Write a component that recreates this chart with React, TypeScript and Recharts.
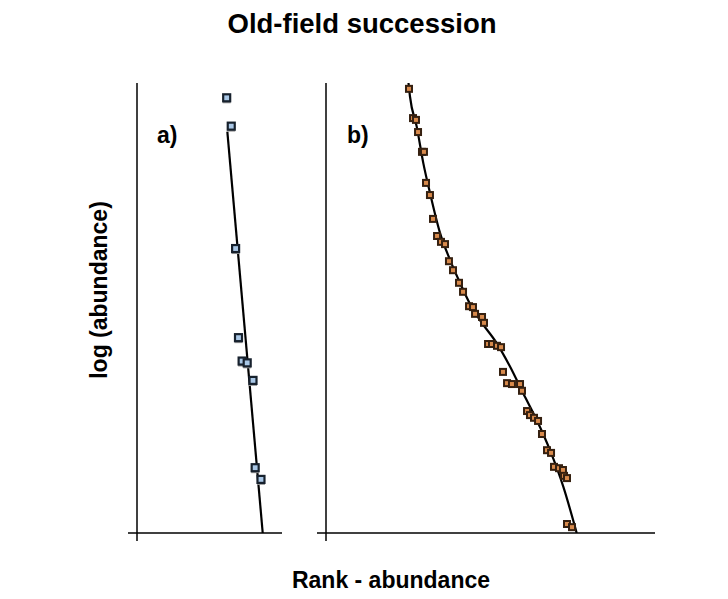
import React from "react";
import { ComposedChart, Scatter, Line, XAxis, YAxis } from "recharts";

// Panel a) observed rank / log abundance
const aRank = [12.37, 13.0, 13.6, 14.0, 14.5, 15.2, 16.0, 16.3, 17.1];
const aLogAbund = [9.66, 9.03, 6.31, 4.33, 3.81, 3.77, 3.38, 1.44, 1.18];
// Panel a) fitted line
const aFitRank = [12.46, 17.34];
const aFitLog = [8.92, 0];

// Panel b) observed rank / log abundance
const bRank = [
  10.09, 10.58, 10.94, 11.19, 11.67, 11.91, 12.16, 12.64, 13.01, 13.5, 13.98,
  14.47, 14.95, 15.44, 16.17, 16.66, 17.39, 17.87, 18.12, 18.97, 19.21, 19.7,
  20.18, 20.79, 21.28, 21.52, 22.01, 22.61, 23.59, 23.83, 24.44, 24.8, 25.29,
  25.78, 26.26, 26.87, 27.36, 27.72, 28.33, 28.81, 28.94, 29.3, 29.3, 29.91,
];
const bLogAbund = [
  9.87, 9.22, 9.18, 8.91, 8.47, 8.47, 7.78, 7.51, 6.98, 6.6, 6.47, 6.42, 6.04,
  5.84, 5.56, 5.36, 5.04, 5.02, 4.87, 4.8, 4.67, 4.2, 4.2, 4.16, 4.13, 3.58,
  3.33, 3.31, 3.31, 3.16, 2.71, 2.62, 2.56, 2.49, 2.2, 1.84, 1.78, 1.47, 1.44,
  1.4, 1.27, 1.22, 0.2, 0.13,
];
// Panel b) fitted curve
const bFitRank = [
  10.03, 10.21, 11.03, 11.83, 12.64, 13.86, 15.08, 16.29, 17.51, 18.72, 20.75,
  22.37, 23.99, 25.62, 27.23, 28.85, 30.48,
];
const bFitLog = [
  10, 9.7, 9.03, 8.22, 7.56, 6.67, 6.07, 5.56, 5.09, 4.73, 4.22, 3.7, 3.1, 2.51,
  1.84, 1.03, 0,
];

const title = "Old-field succession";
const xLabel = "Rank - abundance";
const yLabel = "log (abundance)";
const panelLabels = ["a)", "b)"];

const zip = (xs: number[], ys: number[]) => xs.map((x, i) => ({ x, y: ys[i] }));

const aPoints = zip(aRank, aLogAbund);
const aFit = zip(aFitRank, aFitLog);
const bPoints = zip(bRank, bLogAbund);
const bFit = zip(bFitRank, bFitLog);

const FONT = "'Liberation Sans', Arial, Helvetica, sans-serif";

const BlueSquare = (props: any) => {
  const { cx, cy } = props;
  if (cx == null || cy == null) return <g />;
  return (
    <g>
      <rect x={cx - 4} y={cy + 3} width={8} height={2} fill="#9a9a9a" />
      <rect x={cx - 3.5} y={cy - 4} width={7} height={7} fill="#a9c7e6" stroke="#17212d" strokeWidth={2.2} />
    </g>
  );
};

const OrangeSquare = (props: any) => {
  const { cx, cy } = props;
  if (cx == null || cy == null) return <g />;
  return (
    <rect x={cx - 3} y={cy - 3} width={6} height={6} fill="#d88a4c" stroke="#352010" strokeWidth={2} />
  );
};

const NoTick = () => <g />;

type PanelProps = {
  points: { x: number; y: number }[];
  fit: { x: number; y: number }[];
  xMax: number;
  left: number;
  right: number;
  shape: any;
};

const Panel = ({ points, fit, xMax, left, right, shape }: PanelProps) => (
  <div style={{ position: "absolute", left: 0, top: 0 }}>
    <ComposedChart
      width={728}
      height={599}
      margin={{ top: 83, left: left - 20, right: 728 - right, bottom: 599 - 533 - 20 }}
    >
      <XAxis
        type="number"
        dataKey="x"
        domain={[0, xMax]}
        ticks={[0]}
        tick={NoTick}
        tickSize={8}
        height={20}
        axisLine={{ stroke: "#000", strokeWidth: 1.5 }}
        tickLine={{ stroke: "#000", strokeWidth: 1.5 }}
        allowDataOverflow
      />
      <YAxis
        type="number"
        dataKey="y"
        domain={[0, 10]}
        ticks={[0]}
        tick={NoTick}
        tickSize={9}
        width={20}
        axisLine={{ stroke: "#000", strokeWidth: 1.5 }}
        tickLine={{ stroke: "#000", strokeWidth: 1.5 }}
        allowDataOverflow
      />
      <Line
        data={fit}
        dataKey="y"
        type="monotone"
        stroke="#000"
        strokeWidth={2.2}
        dot={false}
        activeDot={false}
        isAnimationActive={false}
      />
      <Scatter data={points} dataKey="y" shape={shape} isAnimationActive={false} />
    </ComposedChart>
  </div>
);

export default function App() {
  return (
    <div
      style={{
        position: "absolute",
        left: 0,
        top: 0,
        width: 728,
        height: 599,
        background: "#fff",
        overflow: "hidden",
      }}
    >
      <svg width={728} height={599} style={{ position: "absolute", left: 0, top: 0 }}>
        <text x={362} y={33} textAnchor="middle" fontFamily={FONT} fontWeight="bold" fontSize={27.5} fill="#000">
          {title}
        </text>
        <text x={391} y={588} textAnchor="middle" fontFamily={FONT} fontWeight="bold" fontSize={23} fill="#000">
          {xLabel}
        </text>
        <text
          x={107}
          y={290}
          textAnchor="middle"
          transform="rotate(-90, 107, 290)"
          fontFamily={FONT}
          fontWeight="bold"
          fontSize={23}
          fill="#000"
        >
          {yLabel}
        </text>
        <text x={157} y={143} fontFamily={FONT} fontWeight="bold" fontSize={23} fill="#000">
          {panelLabels[0]}
        </text>
        <text x={347} y={143} fontFamily={FONT} fontWeight="bold" fontSize={23} fill="#000">
          {panelLabels[1]}
        </text>
      </svg>
      <Panel points={aPoints} fit={aFit} xMax={20} left={137} right={282} shape={BlueSquare} />
      <Panel points={bPoints} fit={bFit} xMax={40} left={326} right={655} shape={OrangeSquare} />
    </div>
  );
}
